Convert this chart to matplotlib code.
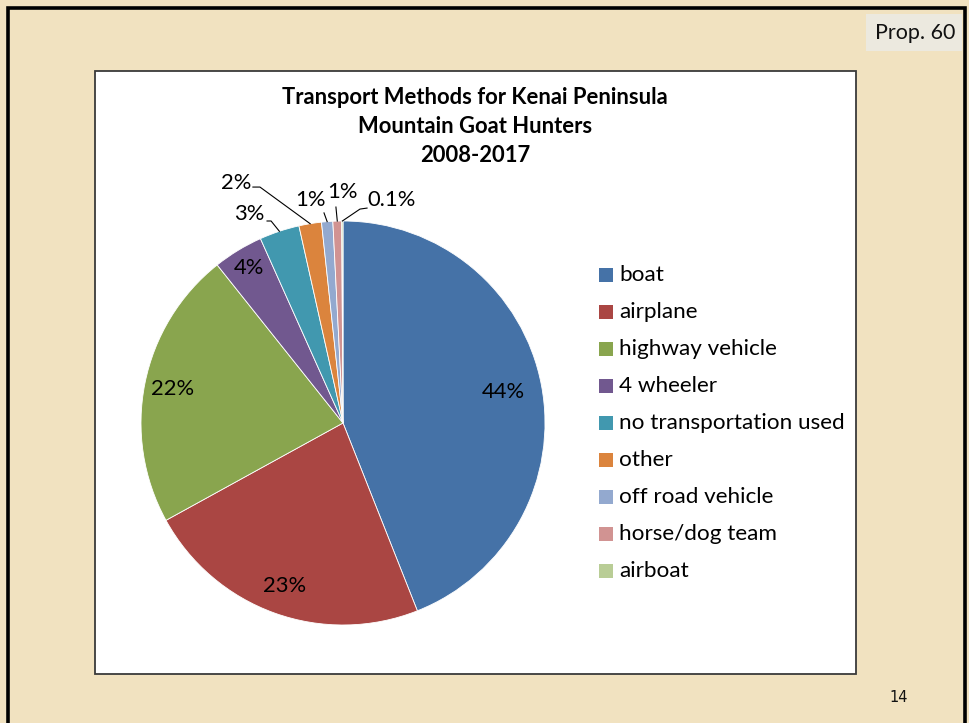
import matplotlib
matplotlib.use("Agg")
import matplotlib.pyplot as plt
from matplotlib.patches import Rectangle
import numpy as np

categories = ["boat", "airplane", "highway vehicle", "4 wheeler",
              "no transportation used", "other", "off road vehicle",
              "horse/dog team", "airboat"]
percents = [44.0, 23.0, 22.3, 4.0, 3.2, 1.8, 0.9, 0.7, 0.1]
colors = ["#4572A7", "#AA4643", "#89A54E", "#71588F", "#4198AF",
          "#DB843D", "#93A9CF", "#D19392", "#B9CD96"]
title_lines = ["Transport Methods for Kenai Peninsula",
               "Mountain Goat Hunters", "2008-2017"]
prop_label = "Prop. 60"
slide_number = "14"

W, H = 969, 723
FONT = ["Lato", "DejaVu Sans"]

fig = plt.figure(figsize=(W / 100, H / 100), dpi=100)
fig.patch.set_facecolor("#F1E2C0")

bg = fig.add_axes([0, 0, 1, 1])
bg.set_xlim(0, W)
bg.set_ylim(H, 0)
bg.axis("off")

# slide border
bg.plot([8, 8, 965, 965], [730, 8, 8, 730], color="black", lw=2.6,
        solid_joinstyle="miter")
# chart area
bg.add_patch(Rectangle((95, 71), 761, 603, facecolor="white",
                       edgecolor="#3a3a3a", lw=1.3))
# proposal tag
bg.add_patch(Rectangle((866, 14), 96, 37, facecolor="#ECE9DF",
                       edgecolor="none"))
bg.text(915, 33, prop_label, ha="center", va="center", fontsize=15.5,
        family=FONT, color="#111111")
bg.text(899, 697, slide_number, ha="center", va="center", fontsize=10.5,
        family=["Liberation Sans Narrow", "DejaVu Sans"], color="#111111")

# title
for i, line in enumerate(title_lines):
    bg.text(475, 97 + i * 29.5, line, ha="center", va="center",
            fontsize=15.8, fontweight="bold", family=FONT, color="black")

# legend
for i, (cat, col) in enumerate(zip(categories, colors)):
    yc = 275 + i * 37.0
    bg.add_patch(Rectangle((599, yc - 7), 14, 14, facecolor=col,
                           edgecolor="none"))
    bg.text(619, yc, cat, ha="left", va="center", fontsize=16.2,
            family=FONT, color="black")

# pie
R, cx, cy = 202, 343, 423
ax = fig.add_axes([(cx - 1.3 * R) / W, 1 - (cy + 1.3 * R) / H,
                   2.6 * R / W, 2.6 * R / H])
wedges, _ = ax.pie(percents, colors=colors, startangle=90,
                   counterclock=False, radius=1,
                   wedgeprops=dict(edgecolor="white", linewidth=0.6))
ax.set_xlim(-1.3, 1.3)
ax.set_ylim(-1.3, 1.3)
ax.axis("off")


def fmt(p):
    return f"{p:.0f}%" if p >= 0.5 else f"{p:.1f}%"


LABEL_FS = 15.8

# inside labels (first four slices)
inside_r = [0.81, 0.86, 0.86, 0.90]
for w, p, r in zip(wedges[:4], percents[:4], inside_r):
    mid = np.deg2rad((w.theta1 + w.theta2) / 2)
    ax.text(r * np.cos(mid), r * np.sin(mid), fmt(p), ha="center",
            va="center", fontsize=LABEL_FS, family=FONT, color="black")

# outside labels with leader lines: (text position, leader path points)
outside = [
    ((-0.463, 1.035), [(-0.356, 1.0), (-0.376, 1.0)]),
    ((-0.530, 1.186), [(-0.411, 1.168), (-0.446, 1.168)]),
    ((-0.163, 1.104), [(-0.094, 1.040)]),
    ((-0.005, 1.144), [(-0.035, 1.069)]),
    ((0.238, 1.104), [(0.084, 1.059), (0.119, 1.064)]),
]
for w, p, (tpos, path) in zip(wedges[4:], percents[4:], outside):
    mid = np.deg2rad((w.theta1 + w.theta2) / 2)
    xs = [np.cos(mid)] + [q[0] for q in path]
    ys = [np.sin(mid)] + [q[1] for q in path]
    ax.plot(xs, ys, color="black", lw=0.8)
    ax.text(tpos[0], tpos[1], fmt(p), ha="center", va="center",
            fontsize=LABEL_FS, family=FONT, color="black")

fig.savefig("out.png", dpi=100, facecolor=fig.get_facecolor())
